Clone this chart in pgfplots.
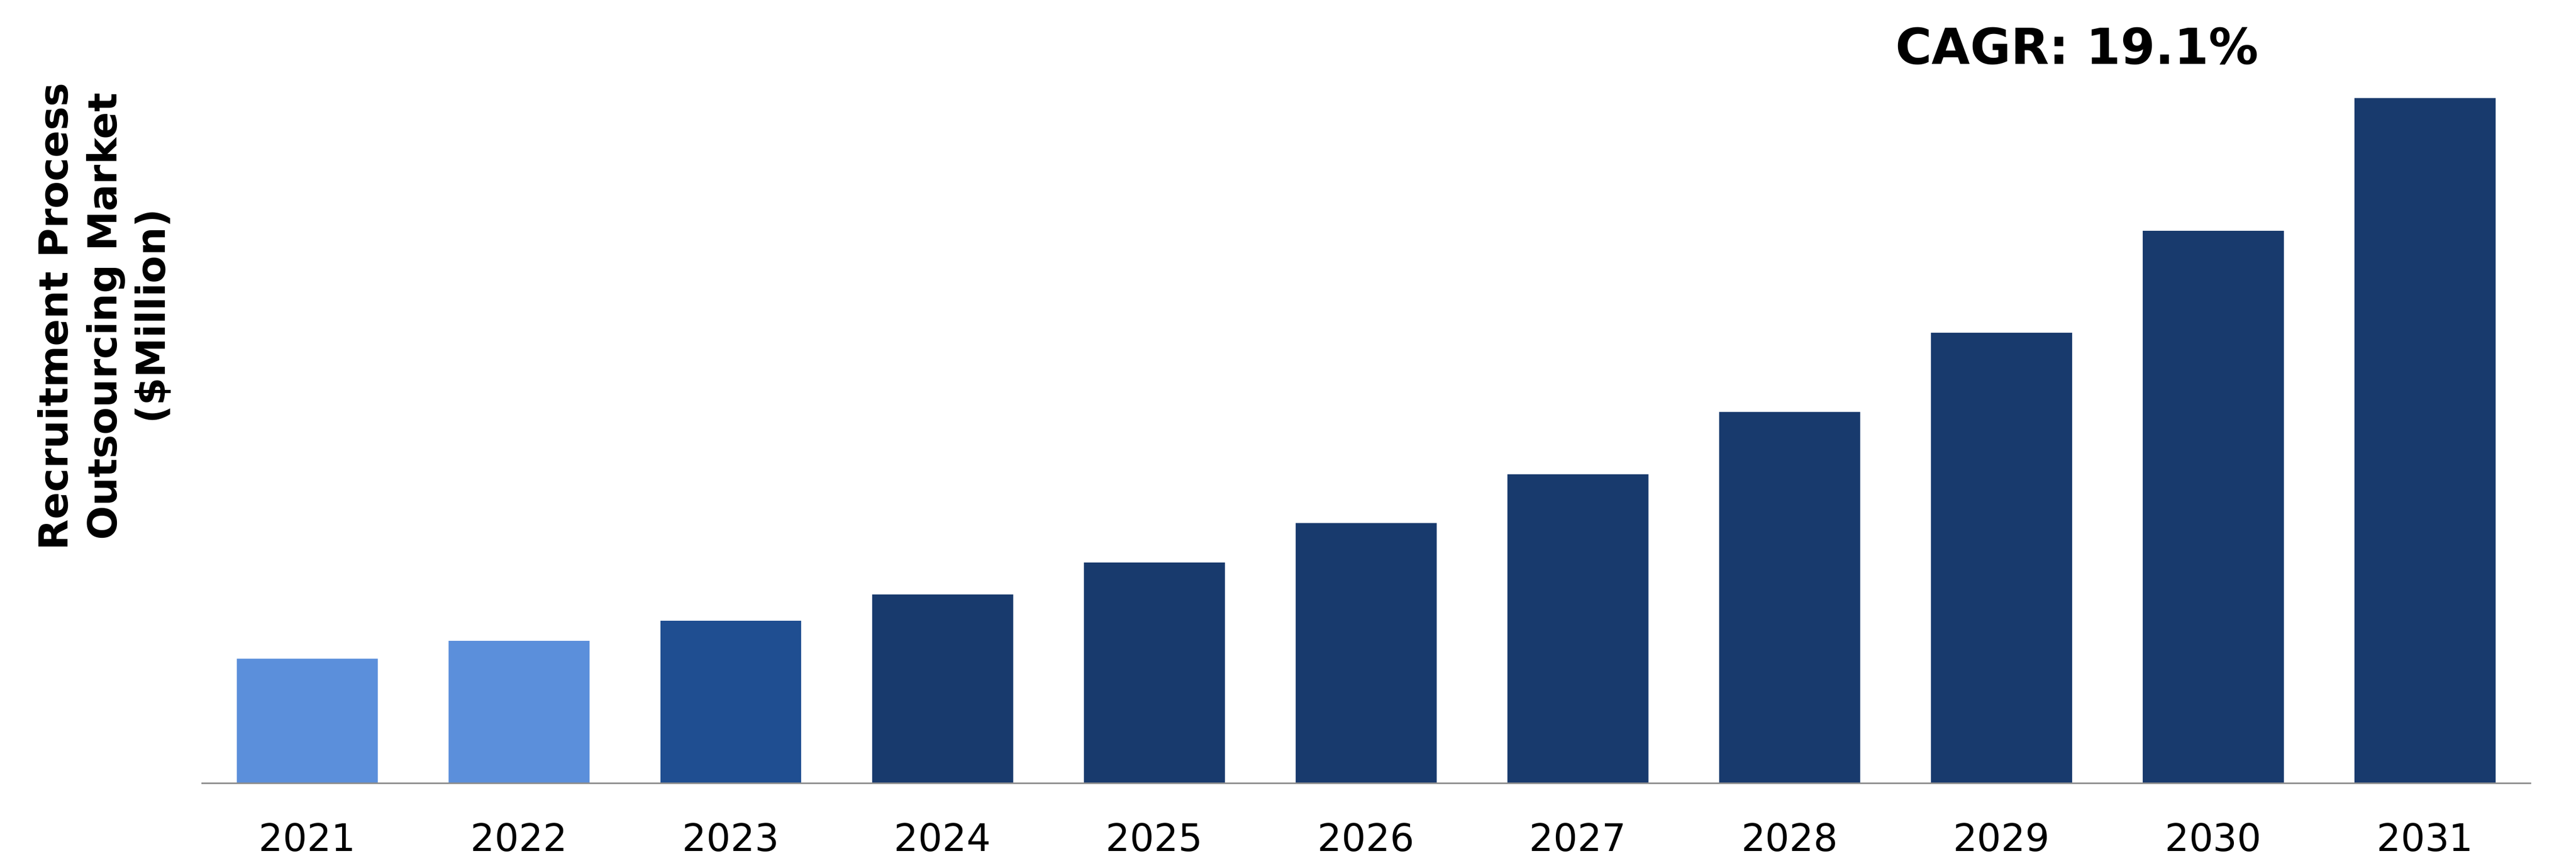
\documentclass[border=0pt]{standalone}
\usepackage{fontspec}
\setmainfont{DejaVu Sans}
\usepackage{pgfplots}
\pgfplotsset{compat=1.18}
\definecolor{lightbar}{HTML}{5B8FDB}
\definecolor{midbar}{HTML}{1F4E91}
\definecolor{darkbar}{HTML}{183A6D}
\definecolor{axisgray}{HTML}{8C8C8C}
\begin{document}
\begin{tikzpicture}
\useasboundingbox (0,0) rectangle (800pt,269.55pt);
\begin{axis}[
  at={(62.55pt,26.25pt)}, anchor=south west,
  width=723.45pt, height=225pt, scale only axis,
  xmin=-0.5, xmax=10.5, ymin=0, ymax=1500,
  axis line style={draw=none},
  ytick=\empty,
  xtick={0,1,2,3,4,5,6,7,8,9,10},
  xticklabels={2021,2022,2023,2024,2025,2026,2027,2028,2029,2030,2031},
  major tick length=0pt,
  xticklabel style={font=\fontsize{11.8pt}{14pt}\selectfont, anchor=base, yshift=-21.07pt},
  /pgf/number format/assume math mode=true,
  ybar, bar width=0.666, bar shift=0pt,
  clip=false,
]
\addplot[draw=none, fill=lightbar] coordinates {(0,258) (1,295)};
\addplot[draw=none, fill=midbar] coordinates {(2,337)};
\addplot[draw=none, fill=darkbar] coordinates {(3,391) (4,457) (5,539) (6,640) (7,769) (8,933) (9,1144) (10,1419)};
\draw[draw=axisgray, line width=0.45pt] (axis cs:-0.5,0) -- (axis cs:10.5,0);
\end{axis}
\node[anchor=base, font=\fontsize{15.4pt}{18pt}\selectfont\bfseries] at (645pt,249.6pt) {CAGR: 19.1\%};
\node[rotate=90, anchor=base, font=\fontsize{12.4pt}{15pt}\selectfont\bfseries] at (21pt,171.2pt) {Recruitment Process};
\node[rotate=90, anchor=base, font=\fontsize{12.4pt}{15pt}\selectfont\bfseries] at (36.3pt,171.2pt) {Outsourcing Market};
\node[rotate=90, anchor=base, font=\fontsize{12.4pt}{15pt}\selectfont\bfseries] at (51.3pt,171.2pt) {(\$Million)};
\end{tikzpicture}
\end{document}
